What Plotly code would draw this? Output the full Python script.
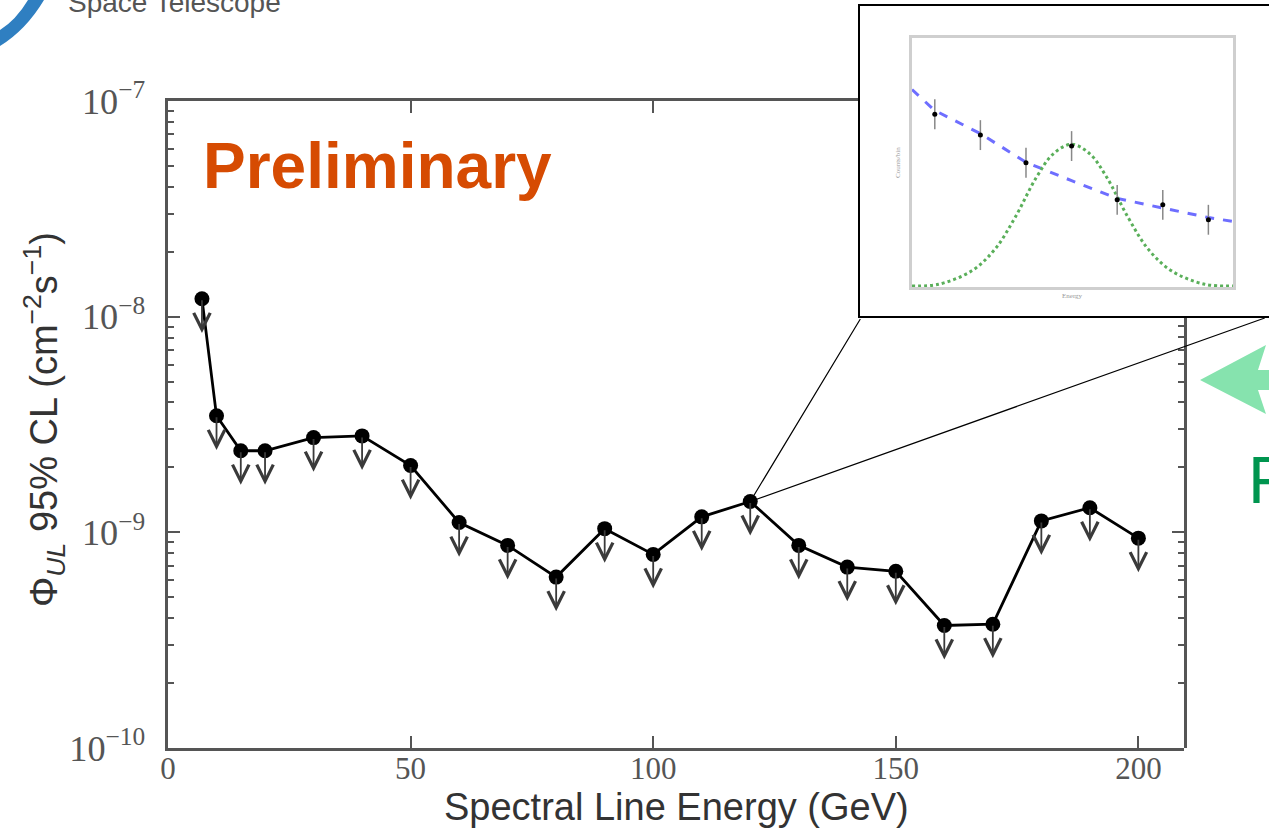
import math
import plotly.graph_objects as go

# ---------------- data ----------------
energy_gev = [7, 10, 15, 20, 30, 40, 50, 60, 70, 80, 90, 100, 110, 120,
              130, 140, 150, 160, 170, 180, 190, 200]
flux_ul = [1.21e-8, 3.47e-9, 2.39e-9, 2.39e-9, 2.75e-9, 2.80e-9, 2.04e-9,
           1.11e-9, 8.7e-10, 6.2e-10, 1.04e-9, 7.9e-10, 1.18e-9, 1.39e-9,
           8.7e-10, 6.9e-10, 6.6e-10, 3.7e-10, 3.75e-10, 1.13e-9, 1.30e-9, 9.4e-10]
x_ticks = [0, 50, 100, 150, 200]

# inset (illustrative spectrum)
inset_x = [0.5, 1.5, 2.5, 3.5, 4.5, 5.5, 6.5]
inset_counts = [6.94, 6.10, 4.99, 5.66, 3.50, 3.30, 2.70]
inset_err = [0.6, 0.6, 0.6, 0.6, 0.6, 0.6, 0.6]
bkg_x = [0.0, 0.49, 1.5, 2.5, 3.5, 4.5, 5.5, 6.5, 7.04]
bkg_y = [7.93, 7.10, 6.16, 5.01, 4.27, 3.56, 3.17, 2.79, 2.63]
line_x = [0.0, 0.58, 1.31, 1.82, 2.26, 2.73, 3.1, 3.5, 3.9, 4.27, 4.74, 5.18, 5.69, 6.42, 7.04]
line_y = [0.04, 0.11, 0.65, 1.52, 2.79, 4.41, 5.35, 5.73, 5.35, 4.41, 2.79, 1.52, 0.65, 0.11, 0.04]

zoom_index = 13  # the 120 GeV point linked to the inset

W, H = 1269, 833
def px(x):
    return x / W
def py(y):
    return 1 - y / H

fig = go.Figure()

# main line + markers
fig.add_trace(go.Scatter(
    x=energy_gev, y=flux_ul, mode="lines+markers",
    line=dict(color="black", width=2.8),
    marker=dict(color="black", size=15),
    xaxis="x", yaxis="y", hoverinfo="skip"))

# helper traces to create top / right frame axes
fig.add_trace(go.Scatter(x=[], y=[], xaxis="x3", yaxis="y", showlegend=False))
fig.add_trace(go.Scatter(x=[], y=[], xaxis="x", yaxis="y3", showlegend=False))

# inset traces
fig.add_trace(go.Scatter(x=bkg_x, y=bkg_y, mode="lines",
                         line=dict(color="rgb(110,110,255)", width=3, dash="dash"),
                         xaxis="x2", yaxis="y2", hoverinfo="skip"))
fig.add_trace(go.Scatter(x=line_x, y=line_y, mode="lines",
                         line=dict(color="rgb(90,175,90)", width=3, dash="dot", shape="spline"),
                         xaxis="x2", yaxis="y2", hoverinfo="skip"))
fig.add_trace(go.Scatter(x=inset_x, y=inset_counts, mode="markers",
                         marker=dict(color="black", size=5),
                         error_y=dict(type="data", array=inset_err, color="#888",
                                      thickness=1.5, width=0),
                         xaxis="x2", yaxis="y2", hoverinfo="skip"))

annotations = []
# upper-limit arrows
for e, f in zip(energy_gev, flux_ul):
    ly = math.log10(f)
    annotations.append(dict(
        x=e, y=ly - 0.158, ax=e, ay=ly, xref="x", yref="y", axref="x", ayref="y",
        text="", showarrow=True, arrowhead=5, arrowsize=1.8, arrowwidth=1.8,
        arrowcolor="#3a3a3a"))

# connector lines from the linked point to the inset corners
ze, zf = energy_gev[zoom_index], math.log10(flux_ul[zoom_index])
for dx in (111, 516):
    annotations.append(dict(
        x=ze, y=zf, xref="x", yref="y", ax=dx, ay=-184, text="",
        showarrow=True, arrowhead=0, arrowwidth=1.2, arrowcolor="black", standoff=0))

annotations += [
    dict(x=px(201), y=py(166), xref="paper", yref="paper", xanchor="left", yanchor="middle",
         text="<b>Preliminary</b>", showarrow=False,
         font=dict(family="Liberation Sans", size=64, color="#D64B02")),
    dict(x=px(676), y=py(807), xref="paper", yref="paper", xanchor="center", yanchor="middle",
         text="Spectral Line Energy (GeV)", showarrow=False,
         font=dict(family="Liberation Sans", size=38, color="#333")),
    dict(x=px(44), y=py(420), xref="paper", yref="paper", xanchor="center", yanchor="middle",
         text="Φ<sub><i>UL</i></sub> 95% CL (cm<sup>−2</sup>s<sup>−1</sup>)", textangle=-90,
         showarrow=False, font=dict(family="Liberation Sans", size=38, color="#333")),
    dict(x=px(66), y=py(3), xref="paper", yref="paper", xanchor="left", yanchor="middle",
         text="Space Telescope", showarrow=False,
         font=dict(family="Liberation Sans", size=28, color="#555")),
    dict(x=px(1246), y=py(480), xref="paper", yref="paper", xanchor="left", yanchor="middle",
         text="F", showarrow=False,
         font=dict(family="Liberation Sans", size=66, color="#00954F")),
    dict(x=px(1072), y=py(296), xref="paper", yref="paper", xanchor="center", yanchor="middle",
         text="Energy", showarrow=False,
         font=dict(family="Liberation Serif", size=7, color="#999")),
    dict(x=px(898), y=py(163), xref="paper", yref="paper", xanchor="center", yanchor="middle",
         text="Counts/bin", textangle=-90, showarrow=False,
         font=dict(family="Liberation Serif", size=7, color="#999")),
]

def path(points):
    return "M " + " L ".join(f"{px(a):.5f},{py(b):.5f}" for a, b in points) + " Z"

shapes = [
    # inset outer frame
    dict(type="rect", xref="paper", yref="paper", x0=px(859), x1=px(1290), y0=py(317), y1=py(5),
         line=dict(color="black", width=2), fillcolor="rgba(0,0,0,0)", layer="above"),
    # green arrow
    dict(type="path", xref="paper", yref="paper",
         path=path([(1200, 380), (1266, 345), (1258, 370), (1280, 370), (1280, 390),
                    (1258, 390), (1266, 414)]),
         fillcolor="#86E3AE", line=dict(width=0), layer="above"),
    # logo swoosh
    dict(type="path", xref="paper", yref="paper",
         path=f"M {px(0)},{py(46)} Q {px(26)},{py(30)} {px(44)},{py(0)} L {px(28)},{py(0)} "
              f"Q {px(16)},{py(20)} {px(0)},{py(30)} Z",
         fillcolor="#2F7FC1", line=dict(width=0), layer="above"),
]

axis_col = "#555"

fig.update_layout(
    width=W, height=H, autosize=False,
    margin=dict(l=0, r=0, t=0, b=0, autoexpand=False),
    paper_bgcolor="white", plot_bgcolor="rgba(0,0,0,0)",
    showlegend=False, hovermode=False,
    xaxis=dict(domain=[px(168), px(1184)], range=[0, 209.4], tickvals=x_ticks,
               ticks="inside", ticklen=12, tickwidth=2, tickcolor=axis_col,
               showline=True, linewidth=3, linecolor=axis_col, showgrid=False,
               zeroline=False, anchor="y", ticklabelstandoff=-9,
               tickfont=dict(family="Liberation Serif", size=31, color="#555")),
    yaxis=dict(domain=[py(748), py(101)], type="log", range=[-10, -7], dtick=1,
               exponentformat="power", ticks="inside", ticklen=12, tickwidth=2,
               tickcolor=axis_col, showline=True, linewidth=3, linecolor=axis_col,
               showgrid=False, zeroline=False, anchor="x", ticklabelstandoff=14,
               tickfont=dict(family="Liberation Serif", size=29, color="#555"),
               minor=dict(ticks="inside", ticklen=6, tickwidth=1.5, tickcolor=axis_col,
                          showgrid=False)),
    xaxis3=dict(domain=[px(168), px(859)], range=[0, (859 - 168) / 4.85], tickvals=[50, 100],
                side="top", anchor="y", ticks="inside", ticklen=12, tickwidth=2,
                tickcolor=axis_col, showticklabels=False, showline=True, linewidth=3,
                linecolor=axis_col, showgrid=False, zeroline=False),
    yaxis3=dict(domain=[py(748), py(317)], type="log", range=[-10, -8.002], dtick=1,
                side="right", anchor="x", ticks="inside", ticklen=12, tickwidth=2,
                tickcolor=axis_col, showticklabels=False, showline=True, linewidth=3,
                linecolor=axis_col, showgrid=False, zeroline=False,
                minor=dict(ticks="inside", ticklen=6, tickwidth=1.5, tickcolor=axis_col,
                           showgrid=False)),
    xaxis2=dict(domain=[px(912), px(1233)], range=[0, 7.04], anchor="y2",
                showticklabels=False, ticks="", showline=True, mirror=True,
                linecolor="#cfcfcf", linewidth=3, showgrid=False, zeroline=False),
    yaxis2=dict(domain=[py(287), py(38)], range=[0, 10], anchor="x2",
                showticklabels=False, ticks="", showline=True, mirror=True,
                linecolor="#cfcfcf", linewidth=3, showgrid=False, zeroline=False),
    annotations=annotations,
    shapes=shapes,
)

fig.write_html("out.html")
